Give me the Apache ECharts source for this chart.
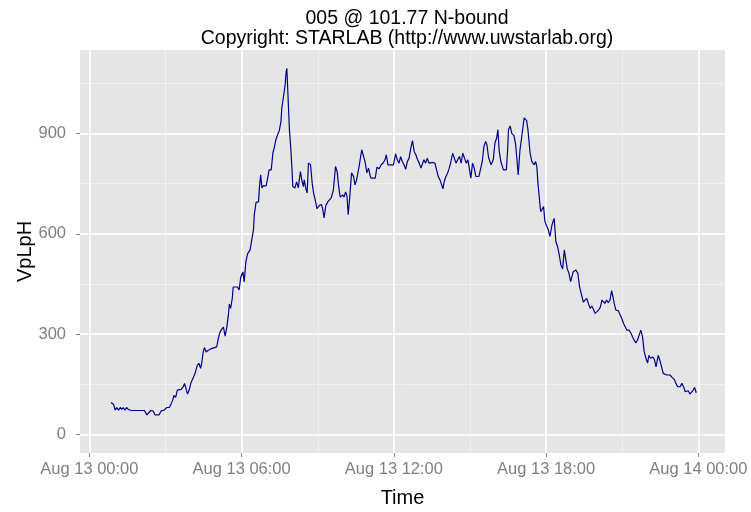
<!DOCTYPE html>
<html>
<head>
<meta charset="utf-8">
<script src="https://cdn.jsdelivr.net/npm/echarts@6/dist/echarts.min.js"></script>
<style>
  html, body { margin: 0; padding: 0; background: #fff; }
  #main { width: 751px; height: 512px; }
</style>
</head>
<body>
<div id="main"></div>
<script>
// 5-minute-ish detector samples, Aug 13 (time of day, vehicles per lane per hour)
const times = [
  "00:51", "00:57", "01:01", "01:05", "01:09", "01:13", "01:17", "01:20", "01:24", "01:28",
  "01:32", "01:36", "01:40", "02:10", "02:16", "02:20", "02:25", "02:31", "02:35", "02:45",
  "02:50", "02:57", "03:03", "03:09", "03:13", "03:17", "03:20", "03:24", "03:28", "03:32",
  "03:37", "03:42", "03:45", "03:52", "03:56", "04:00", "04:05", "04:10", "04:15", "04:19",
  "04:23", "04:26", "04:29", "04:32", "04:36", "04:41", "04:49", "05:01", "05:05", "05:09",
  "05:13", "05:17", "05:21", "05:25", "05:29", "05:31", "05:34", "05:38", "05:40", "05:50",
  "05:54", "05:58", "06:03", "06:06", "06:10", "06:14", "06:20", "06:24", "06:28", "06:30",
  "06:34", "06:40", "06:42", "06:45", "06:48", "06:51", "06:58", "07:02", "07:05", "07:10",
  "07:14", "07:17", "07:21", "07:25", "07:29", "07:33", "07:35", "07:39", "07:43", "07:45",
  "07:47", "07:50", "07:53", "07:56", "07:59", "08:01", "08:06", "08:10", "08:14", "08:19",
  "08:23", "08:26", "08:28", "08:32", "08:35", "08:38", "08:43", "08:47", "08:50", "08:54",
  "08:58", "09:04", "09:09", "09:12", "09:15", "09:19", "09:24", "09:32", "09:37", "09:42",
  "09:46", "09:49", "09:53", "09:59", "10:02", "10:06", "10:09", "10:12", "10:16", "10:20",
  "10:25", "10:28", "10:32", "10:38", "10:44", "10:48", "10:52", "10:56", "11:00", "11:04",
  "11:06", "11:16", "11:20", "11:25", "11:30", "11:35", "11:39", "11:42", "11:46", "11:59",
  "12:04", "12:08", "12:12", "12:16", "12:20", "12:24", "12:28", "12:32", "12:36", "12:40",
  "12:44", "12:48", "12:52", "12:56", "13:00", "13:04", "13:07", "13:11", "13:15", "13:19",
  "13:23", "13:27", "13:32", "13:37", "13:41", "13:45", "13:49", "13:53", "13:56", "13:59",
  "14:03", "14:07", "14:11", "14:15", "14:19", "14:23", "14:27", "14:31", "14:35", "14:39",
  "14:43", "14:47", "14:51", "14:55", "14:59", "15:02", "15:06", "15:10", "15:14", "15:17",
  "15:21", "15:25", "15:29", "15:33", "15:37", "15:40", "15:44", "15:50", "15:55", "15:59",
  "16:03", "16:06", "16:09", "16:13", "16:19", "16:26", "16:29", "16:31", "16:35", "16:39",
  "16:44", "16:48", "16:51", "16:54", "16:58", "17:02", "17:08", "17:14", "17:17", "17:22",
  "17:26", "17:32", "17:35", "17:38", "17:41", "17:44", "17:47", "17:50", "17:54", "17:57",
  "18:01", "18:05", "18:09", "18:14", "18:19", "18:23", "18:27", "18:31", "18:35", "18:39",
  "18:43", "18:47", "18:50", "18:54", "18:58", "19:04", "19:10", "19:15", "19:19", "19:23",
  "19:28", "19:32", "19:36", "19:40", "19:44", "19:48", "19:52", "19:56", "20:00", "20:04",
  "20:08", "20:12", "20:15", "20:19", "20:23", "20:27", "20:31", "20:35", "20:38", "20:41",
  "20:45", "20:51", "20:55", "20:59", "21:03", "21:07", "21:11", "21:16", "21:21", "21:26",
  "21:32", "21:36", "21:40", "21:44", "21:48", "21:52", "21:56", "22:00", "22:03", "22:07",
  "22:12", "22:16", "22:20", "22:25", "22:29", "22:33", "22:37", "22:41", "22:45", "22:49",
  "22:53", "22:58", "23:03", "23:07", "23:11", "23:17", "23:21", "23:25", "23:29", "23:33",
  "23:36", "23:40", "23:44", "23:48", "23:51", "23:55"
];
const vplph = [
  96, 91, 73, 81, 73, 81, 75, 81, 73, 81,
  75, 79, 72, 72, 59, 64, 72, 70, 59, 59,
  71, 73, 81, 81, 91, 103, 117, 111, 133, 138,
  135, 143, 153, 121, 133, 154, 168, 183, 207, 213,
  198, 216, 247, 260, 247, 252, 257, 262, 288, 306,
  315, 321, 294, 321, 362, 390, 377, 408, 441, 441,
  432, 471, 486, 456, 516, 540, 552, 582, 612, 657,
  693, 696, 737, 776, 737, 743, 743, 770, 791, 791,
  842, 856, 881, 896, 908, 935, 976, 1010, 1046, 1082,
  1094, 1001, 911, 860, 794, 741, 737, 755, 737, 786,
  756, 741, 761, 734, 722, 811, 806, 749, 722, 701,
  675, 685, 687, 672, 647, 684, 696, 707, 731, 801,
  785, 746, 710, 716, 710, 725, 713, 657, 716, 782,
  770, 746, 761, 803, 851, 846, 815, 782, 796, 773,
  766, 766, 799, 794, 806, 812, 821, 836, 806, 806,
  839, 821, 811, 830, 815, 806, 793, 816, 826, 856,
  878, 846, 836, 821, 811, 796, 796, 821, 811, 826,
  811, 816, 813, 811, 791, 771, 761, 746, 734, 756,
  771, 781, 796, 816, 841, 826, 811, 821, 831, 811,
  841, 826, 811, 821, 791, 766, 811, 796, 771, 776,
  771, 776, 816, 861, 876, 866, 827, 806, 821, 871,
  886, 911, 848, 815, 791, 791, 851, 911, 922, 899,
  893, 866, 821, 776, 848, 886, 946, 938, 911, 842,
  816, 806, 816, 801, 746, 707, 666, 672, 681, 637,
  624, 612, 592, 627, 646, 577, 562, 537, 507, 495,
  552, 519, 495, 482, 457, 486, 492, 482, 442, 422,
  396, 397, 407, 392, 377, 384, 374, 362, 367, 372,
  380, 402, 397, 392, 402, 394, 402, 430, 412, 392,
  372, 370, 357, 347, 332, 322, 312, 312, 302, 287,
  274, 282, 297, 312, 292, 247, 228, 214, 237, 228,
  232, 225, 202, 237, 222, 202, 183, 184, 178, 183,
  178, 171, 165, 153, 143, 143, 153, 143, 128, 123,
  131, 121, 125, 133, 141, 125
];

// axis ticks (hours since Aug 13 00:00) and labels
const xTickHours = [0, 6, 12, 18, 24];
const xTickLabels = ["Aug 13 00:00", "Aug 13 06:00", "Aug 13 12:00", "Aug 13 18:00", "Aug 14 00:00"];
const xMinorHours = [3, 9, 15, 21];
const yTicks = [0, 300, 600, 900];
const yMinor = [150, 450, 750, 1050];

function toHours(t) {
  const p = t.split(":");
  return Number(p[0]) + Number(p[1]) / 60;
}

const seriesData = times.map((t, i) => [toHours(t), vplph[i]]);

const X_MIN = -0.37, X_MAX = 25.05;
const Y_MIN = -55, Y_MAX = 1149;
const FONT = "Liberation Sans, Arial, sans-serif";

var chartDom = document.getElementById("main");
var myChart = echarts.init(chartDom, null, { renderer: "canvas" });

var option = {
  animation: false,
  backgroundColor: "#ffffff",
  title: {
    text: "005 @ 101.77 N-bound\nCopyright: STARLAB (http://www.uwstarlab.org)",
    left: 402,
    top: 4,
    textAlign: "center",
    textStyle: {
      fontFamily: FONT,
      fontSize: 19.5,
      fontWeight: "normal",
      color: "#000",
      lineHeight: 20,
    },
  },
  grid: {
    left: 80,
    right: 26,
    top: 50,
    bottom: 59,
    outerBoundsMode: "none",
    show: true,
    backgroundColor: "#e5e5e5",
    borderWidth: 0,
  },
  xAxis: [
    {
      type: "value",
      min: X_MIN,
      max: X_MAX,
      name: "Time",
      nameLocation: "middle",
      nameGap: 35,
      nameMoveOverlap: false,
      nameTextStyle: { fontFamily: FONT, fontSize: 20, color: "#000", verticalAlign: "top" },
      axisLine: { show: false, onZero: false },
      axisTick: {
        show: true,
        length: 4,
        customValues: xTickHours,
        lineStyle: { color: "#7f7f7f", width: 1 },
      },
      axisLabel: {
        customValues: xTickHours,
        margin: 8,
        fontFamily: FONT,
        fontSize: 16.5,
        color: "#7f7f7f",
        formatter: function (v) {
          const i = xTickHours.indexOf(v);
          return i >= 0 ? xTickLabels[i] : "";
        },
      },
      splitLine: { show: true, lineStyle: { color: "#ffffff", width: 1.6 } },
    },
    {
      type: "value",
      min: X_MIN,
      max: X_MAX,
      position: "top",
      axisLine: { show: false, onZero: false },
      axisTick: { show: false, customValues: xMinorHours },
      axisLabel: { show: false },
      splitLine: { show: true, lineStyle: { color: "#f2f2f2", width: 0.9 } },
    },
  ],
  yAxis: [
    {
      type: "value",
      min: Y_MIN,
      max: Y_MAX,
      name: "VpLpH",
      nameLocation: "middle",
      nameGap: 45,
      nameMoveOverlap: false,
      nameTextStyle: { fontFamily: FONT, fontSize: 20, color: "#000" },
      axisLine: { show: false, onZero: false },
      axisTick: {
        show: true,
        length: 4,
        customValues: yTicks,
        lineStyle: { color: "#7f7f7f", width: 1 },
      },
      axisLabel: {
        customValues: yTicks,
        margin: 14,
        fontFamily: FONT,
        fontSize: 16.5,
        color: "#7f7f7f",
      },
      splitLine: { show: true, lineStyle: { color: "#ffffff", width: 1.6 } },
    },
    {
      type: "value",
      min: Y_MIN,
      max: Y_MAX,
      position: "right",
      axisLine: { show: false, onZero: false },
      axisTick: { show: false, customValues: yMinor },
      axisLabel: { show: false },
      splitLine: { show: true, lineStyle: { color: "#f2f2f2", width: 0.9 } },
    },
  ],
  series: [
    {
      name: "VpLpH",
      type: "line",
      xAxisIndex: 0,
      yAxisIndex: 0,
      data: seriesData,
      showSymbol: false,
      symbol: "none",
      lineStyle: { color: "#00008b", width: 1.2 },
      z: 5,
    },
  ],
};

myChart.setOption(option);
</script>
</body>
</html>
